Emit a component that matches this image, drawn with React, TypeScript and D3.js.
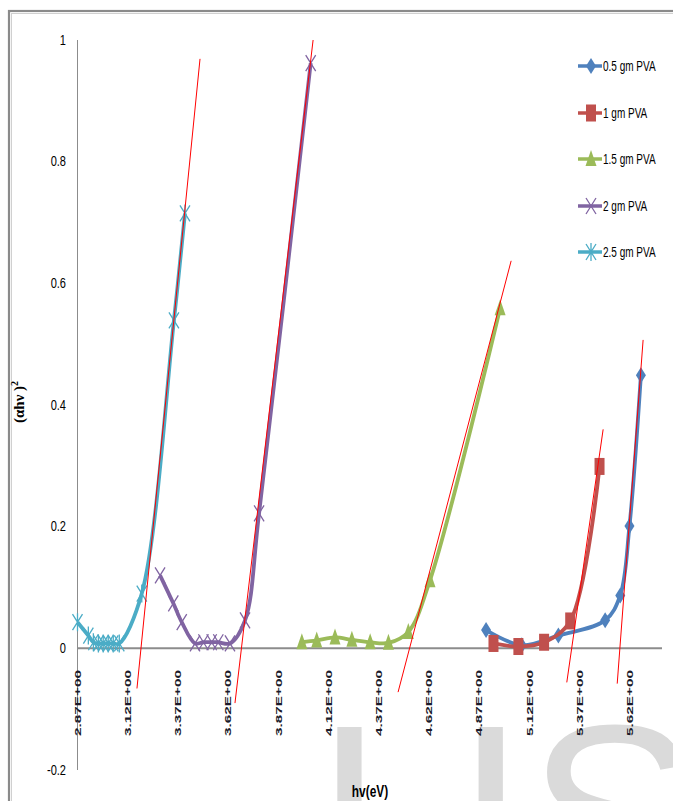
import React from "react";
import * as d3 from "d3";

const seriesNames = ["0.5 gm PVA", "1 gm PVA", "1.5 gm PVA", "2 gm PVA", "2.5 gm PVA"];
const seriesColors = ["#4F81BD", "#C0504D", "#9BBB59", "#8064A2", "#4BACC6"];
const seriesMarkers = ["diamond", "square", "triangle", "x", "star"];

const hv05 = [4.904, 5.082, 5.264, 5.497, 5.572, 5.618, 5.675];
const a05 = [0.030, 0.005, 0.021, 0.046, 0.087, 0.201, 0.449];
const hv1 = [4.941, 5.065, 5.193, 5.323, 5.469];
const a1 = [0.008, 0.003, 0.010, 0.045, 0.299];
const hv15 = [3.987, 4.061, 4.152, 4.236, 4.327, 4.418, 4.517, 4.625, 4.974];
const a15 = [0.010, 0.013, 0.018, 0.014, 0.010, 0.009, 0.027, 0.112, 0.559];
const hv2 = [3.281, 3.347, 3.389, 3.455, 3.497, 3.538, 3.571, 3.629, 3.704, 3.774, 4.031];
const a2 = [0.120, 0.074, 0.043, 0.008, 0.010, 0.010, 0.010, 0.008, 0.046, 0.222, 0.962];
const hv25 = [2.87, 2.924, 2.949, 2.974, 2.998, 3.023, 3.048, 3.078, 3.19, 3.35, 3.405];
const a25 = [0.043, 0.021, 0.010, 0.008, 0.008, 0.008, 0.008, 0.008, 0.090, 0.539, 0.715];

const seriesX = [hv05, hv1, hv15, hv2, hv25];
const seriesY = [a05, a1, a15, a2, a25];

// tangent (fit) lines: start and end points, per series
const fitX0 = [5.557, 5.306, 4.466, 3.654, 3.166];
const fitY0 = [-0.058, -0.056, -0.072, -0.09, -0.066];
const fitX1 = [5.686, 5.487, 5.029, 4.043, 3.48];
const fitY1 = [0.507, 0.36, 0.637, 1.0, 0.969];

const yTicks = [-0.2, 0, 0.2, 0.4, 0.6, 0.8, 1];
const yTickLabels = ["-0.2", "0", "0.2", "0.4", "0.6", "0.8", "1"];
const xTicks = [2.87, 3.12, 3.37, 3.62, 3.87, 4.12, 4.37, 4.62, 4.87, 5.12, 5.37, 5.62];
const xTickLabels = ["2.87E+00", "3.12E+00", "3.37E+00", "3.62E+00", "3.87E+00", "4.12E+00", "4.37E+00", "4.62E+00", "4.87E+00", "5.12E+00", "5.37E+00", "5.62E+00"];

const FONT = "'Liberation Sans', Arial, sans-serif";

function Marker({ type, x, y, color }: { type: string; x: number; y: number; color: string }) {
  if (type === "diamond") {
    const w = 5, h = 8;
    return <path d={`M${x},${y - h}L${x + w},${y}L${x},${y + h}L${x - w},${y}Z`} fill={color} />;
  }
  if (type === "square") {
    return <rect x={x - 5} y={y - 8.5} width={10} height={17} fill={color} />;
  }
  if (type === "triangle") {
    return <path d={`M${x},${y - 9}L${x + 5.5},${y + 7}L${x - 5.5},${y + 7}Z`} fill={color} />;
  }
  if (type === "x") {
    return (
      <path d={`M${x - 5},${y - 8}L${x + 5},${y + 8}M${x + 5},${y - 8}L${x - 5},${y + 8}`} stroke={color} strokeWidth={1.3} fill="none" />
    );
  }
  return (
    <path d={`M${x - 5},${y - 8}L${x + 5},${y + 8}M${x + 5},${y - 8}L${x - 5},${y + 8}M${x},${y - 9}L${x},${y + 9}`} stroke={color} strokeWidth={1.3} fill="none" />
  );
}

export default function App() {
  const x = d3.scaleLinear().domain([2.87, 5.78]).range([77.5, 662]);
  const y = d3.scaleLinear().domain([-0.2, 1]).range([770, 40]);
  const line = d3
    .line<[number, number]>()
    .x((d) => x(d[0]))
    .y((d) => y(d[1]))
    .curve(d3.curveCatmullRom.alpha(0.5));

  const legendY = [66, 113, 159, 206, 252];

  return (
    <svg width={673} height={801} style={{ position: "absolute", left: 0, top: 0, background: "#fff" }}>
      <rect x={0} y={0} width={673} height={801} fill="#fff" />
      {/* watermark */}
      <text x={316} y={906} fontFamily="'Liberation Sans', Arial, sans-serif" fontSize={260} fill="#dadada">
        L<tspan dx={-6}>I</tspan>S
      </text>
      {/* frame */}
      <rect x={9} y={11} width={700} height={820} fill="none" stroke="#8a8a8a" strokeWidth={2.2} />
      <rect x={11.5} y={13.5} width={700} height={820} fill="none" stroke="#d0d0d0" strokeWidth={1} />

      {/* axes */}
      <line x1={77.5} x2={77.5} y1={40} y2={770} stroke="#8c8c8c" strokeWidth={1} />
      <line x1={77.5} x2={662} y1={y(0)} y2={y(0)} stroke="#8c8c8c" strokeWidth={2} />

      {yTicks.map((t, i) => (
        <text key={"yt" + i} transform={`translate(66,${y(t) + 4.5}) scale(0.85,1.1)`} textAnchor="end"
          fontFamily={FONT} fontSize={13} fill="#000">
          {yTickLabels[i]}
        </text>
      ))}
      {xTicks.map((t, i) => (
        <text key={"xt" + i} transform={`translate(${x(t)},670) rotate(-90)`} textAnchor="end" dy="0.35em"
          fontFamily={FONT} fontSize={9} fontWeight="bold" fill="#1a1a2a" textLength={66} lengthAdjust="spacingAndGlyphs">
          {xTickLabels[i]}
        </text>
      ))}

      {/* series */}
      {seriesX.map((xs, si) => {
        const pts: [number, number][] = xs.map((v, j) => [v, seriesY[si][j]]);
        return (
          <g key={"s" + si}>
            <path d={line(pts) || ""} fill="none" stroke={seriesColors[si]} strokeWidth={3.8} strokeLinejoin="round" />
            {pts.map((p, j) => (
              <Marker key={j} type={seriesMarkers[si]} x={x(p[0])} y={y(p[1])} color={seriesColors[si]} />
            ))}
          </g>
        );
      })}

      {/* fit lines */}
      {fitX0.map((v, i) => (
        <line key={"f" + i} x1={x(v)} y1={y(fitY0[i])} x2={x(fitX1[i])} y2={y(fitY1[i])} stroke="#FF0000" strokeWidth={1} />
      ))}

      {/* legend */}
      {seriesNames.map((n, i) => (
        <g key={"l" + i}>
          <line x1={578} x2={602} y1={legendY[i]} y2={legendY[i]} stroke={seriesColors[i]} strokeWidth={3.5} />
          <Marker type={seriesMarkers[i]} x={591} y={legendY[i]} color={seriesColors[i]} />
          <text transform={`translate(603,${legendY[i] + 4.5}) scale(0.8,1.1)`} fontFamily={FONT} fontSize={12.5} fill="#000">{n}</text>
        </g>
      ))}

      {/* axis titles */}
      <text transform="translate(24,402) rotate(-90)" textAnchor="middle" fontFamily="'Liberation Serif', 'Times New Roman', serif"
        fontSize={15} fontWeight="bold" fill="#000">
        (αhν )<tspan dy="-6" fontSize={10}>2</tspan>
      </text>
      <text transform="translate(370,797) scale(0.85,1.15)" textAnchor="middle" fontFamily={FONT} fontSize={14} fontWeight="bold" fill="#000">hv(eV)</text>
    </svg>
  );
}
